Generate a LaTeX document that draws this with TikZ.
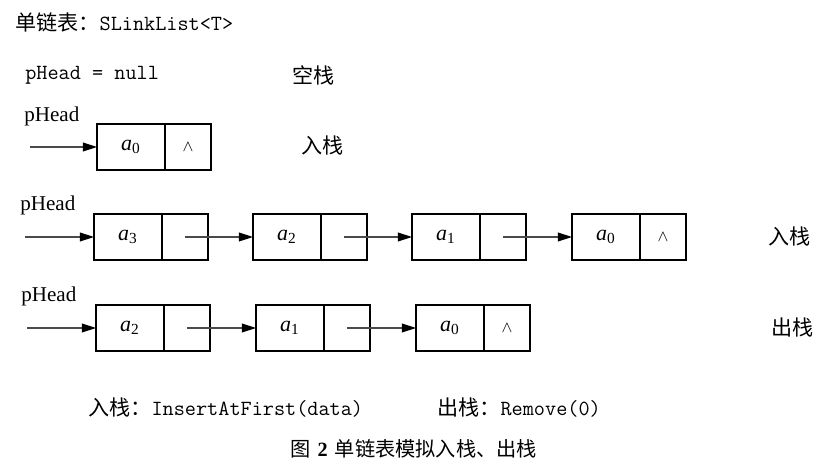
\documentclass[tikz,border=0pt]{standalone}
\usepackage{fontspec}
\setmainfont{Liberation Serif}
\newfontfamily\cjk{Noto Sans CJK SC}
\usetikzlibrary{arrows.meta,positioning}
\definecolor{linegray}{HTML}{4A4A4A}
\newcommand\zh[1]{{\cjk\fontsize{12}{14}\selectfont #1}}
\newcommand\code[1]{{\ttfamily\fontsize{12.3}{14}\selectfont #1}}
\newcommand\elem[1]{{\itshape a}\textsubscript{#1}}

\begin{document}
\begin{tikzpicture}[x=0.02cm, y=-0.02cm,
  datacell/.style={draw, line width=0.6pt, outer sep=0pt, inner sep=0pt, minimum width=1.36cm, minimum height=0.92cm, font=\fontsize{12.5}{14}\selectfont},
  linkcell/.style={datacell, minimum width=0.92cm},
  txt/.style={anchor=west, inner sep=0pt},
  phead/.style={txt, font=\fontsize{12}{14}\selectfont},
  link/.style={draw=linegray, line width=0.6pt, -{Triangle[length=8pt, width=5pt, color=black]}}]
\useasboundingbox (0,0) rectangle (840,473);
% titles
\node[txt] (title) at (15,22) {\zh{单链表：}\code{SLinkList<T>}};
\node[txt] (empty) at (25,75) {\code{pHead = null}};
\node[txt] (emptytag) at (292,75) {\zh{空栈}};
% one node
\node[phead] (h0) at (24,116) {pHead};
\coordinate (h0s) at (30,147);
\node[datacell] (f0) at (131,147) {\elem{0}};
\node[linkcell, right=0pt of f0] (f0p) {\small$\wedge$};
\draw[link] (h0s) -- (f0);
\node[txt] (f0tag) at (301,145) {\zh{入栈}};
% after pushes
\node[phead] (h1) at (20,205) {pHead};
\coordinate (h1s) at (25,237);
\node[datacell] (i3) at (128,237) {\elem{3}};
\node[linkcell, right=0pt of i3] (i3p) {};
\node[datacell] (i2) at (287,237) {\elem{2}};
\node[linkcell, right=0pt of i2] (i2p) {};
\node[datacell] (i1) at (446,237) {\elem{1}};
\node[linkcell, right=0pt of i1] (i1p) {};
\node[datacell] (i0) at (606,237) {\elem{0}};
\node[linkcell, right=0pt of i0] (i0p) {\small$\wedge$};
\draw[link] (h1s) -- (i3);
\draw[link] (i3p.center) -- (i2); \draw[link] (i2p.center) -- (i1); \draw[link] (i1p.center) -- (i0);
\node[txt] (pushtag) at (768,236) {\zh{入栈}};
% after pop
\node[phead] (h2) at (21,296) {pHead};
\coordinate (h2s) at (27,328);
\node[datacell] (r2) at (130,328) {\elem{2}};
\node[linkcell, right=0pt of r2] (r2p) {};
\node[datacell] (r1) at (290,328) {\elem{1}};
\node[linkcell, right=0pt of r1] (r1p) {};
\node[datacell] (r0) at (450,328) {\elem{0}};
\node[linkcell, right=0pt of r0] (r0p) {\small$\wedge$};
\draw[link] (h2s) -- (r2);
\draw[link] (r2p.center) -- (r1); \draw[link] (r1p.center) -- (r0);
\node[txt] (poptag) at (771,327) {\zh{出栈}};
% operations and caption
\node[txt] (pushop) at (88,408) {\zh{入栈：}\code{InsertAtFirst(data)}};
\node[txt] (popop) at (437,408) {\zh{出栈：}\code{Remove(0)}};
\node[txt] (caption) at (290,449) {{\cjk\fontsize{11.5}{14}\selectfont 图\hspace{0.35em}{\rmfamily\bfseries 2}\hspace{0.35em}单链表模拟入栈、出栈}};
\end{tikzpicture}
\end{document}
